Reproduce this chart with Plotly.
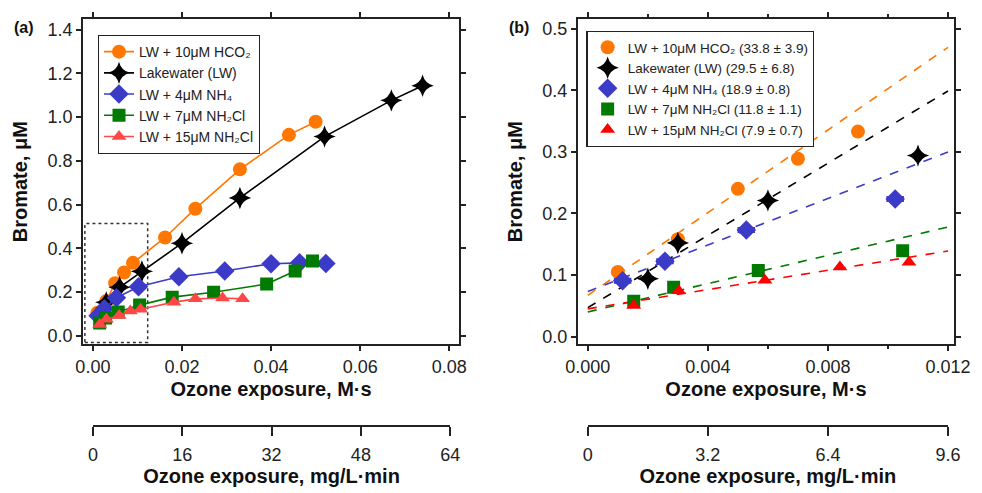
import plotly.graph_objects as go

# ---------------- data ----------------
names_a = ["LW + 10μM HCO₂", "Lakewater (LW)", "LW + 4μM NH₄",
           "LW + 7μM NH₂Cl", "LW + 15μM NH₂Cl"]
rates = ["(33.8 ± 3.9)", "(29.5 ± 6.8)", "(18.9 ± 0.8)", "(11.8 ± 1.1)", "(7.9 ± 0.7)"]

hco2_x = [0.001, 0.003, 0.005, 0.007, 0.009, 0.0162, 0.023, 0.033, 0.044, 0.050]
hco2_y = [0.105, 0.158, 0.240, 0.289, 0.333, 0.449, 0.581, 0.761, 0.919, 0.979]

lw_x = [0.002, 0.003, 0.006, 0.011, 0.020, 0.033, 0.052, 0.067, 0.074]
lw_y = [0.094, 0.152, 0.221, 0.294, 0.423, 0.630, 0.911, 1.077, 1.144]

nh4_x = [0.00116, 0.00257, 0.00528, 0.01024, 0.0193, 0.0296, 0.040, 0.0464, 0.0523]
nh4_y = [0.0905, 0.1225, 0.173, 0.2236, 0.269, 0.296, 0.329, 0.333, 0.330]

cl7_x = [0.00153, 0.00286, 0.00568, 0.01049, 0.0178, 0.0271, 0.039, 0.0454, 0.0493]
cl7_y = [0.0575, 0.080, 0.1075, 0.1395, 0.176, 0.198, 0.236, 0.296, 0.341]

cl15_x = [0.00153, 0.00303, 0.0059, 0.0084, 0.0107, 0.0182, 0.023, 0.0291, 0.0336]
cl15_y = [0.0506, 0.0745, 0.0916, 0.113, 0.1209, 0.153, 0.168, 0.172, 0.168]

# error bars on NH4 points (panel b)
nh4_err_y = [0.007, 0.007, 0.007, 0.007]
nh4_err_x = [0.00025, 0.00025, 0.00025, 0.00025]

# fitted lines in panel b (value at x=0 and at x=0.012)
fit_x = [0.0, 0.012]
fit_y0 = [0.067, 0.047, 0.073, 0.040, 0.045]
fit_y1 = [0.470, 0.399, 0.300, 0.178, 0.139]

xb_max = 0.0115  # panel (b) shows low-exposure points

colors_a = ["#FF7700", "#000000", "#3B3BC8", "#007A00", "#FF4747"]
colors_b = ["#FF7700", "#000000", "#3B3BC8", "#007A00", "#FF0000"]
symbols = ["circle", "star-diamond", "diamond", "square", "triangle-up"]
sizes = [14, 16, 15, 13, 13]

series = [(hco2_x, hco2_y), (lw_x, lw_y), (nh4_x, nh4_y), (cl7_x, cl7_y), (cl15_x, cl15_y)]

FONT = "Liberation Sans, Arial, sans-serif"
fig = go.Figure()

# ---------------- panel (a) ----------------
for i, (xs, ys) in enumerate(series):
    fig.add_trace(go.Scatter(
        x=xs, y=ys, mode="lines+markers", name=names_a[i],
        line=dict(color=colors_a[i], width=1.6),
        marker=dict(symbol=symbols[i], size=sizes[i], color=colors_a[i], line=dict(width=0)),
        xaxis="x", yaxis="y", legend="legend"))

# ---------------- panel (b) ----------------
for i, (xs, ys) in enumerate(series):
    fig.add_trace(go.Scatter(
        x=fit_x, y=[fit_y0[i], fit_y1[i]], mode="lines", showlegend=False,
        line=dict(color=colors_b[i], width=1.6, dash="dash"),
        xaxis="x2", yaxis="y2", hoverinfo="skip"))
for i, (xs, ys) in enumerate(series):
    px = [x for x in xs if x <= xb_max]
    py = [y for x, y in zip(xs, ys) if x <= xb_max]
    kw = {}
    if i == 2:
        kw = dict(error_y=dict(type="data", array=nh4_err_y, color=colors_b[i], thickness=2.5, width=3),
                  error_x=dict(type="data", array=nh4_err_x, color=colors_b[i], thickness=2.5, width=3))
    fig.add_trace(go.Scatter(
        x=px, y=py, mode="markers", name=names_a[i] + " " + rates[i],
        marker=dict(symbol=symbols[i], size=sizes[i], color=colors_b[i], line=dict(width=0)),
        xaxis="x2", yaxis="y2", legend="legend2", **kw))

# invisible traces to carry the secondary exposure axes
fig.add_trace(go.Scatter(x=[0], y=[0], mode="markers", marker=dict(opacity=0), xaxis="x3", yaxis="y3",
                         showlegend=False, hoverinfo="skip"))
fig.add_trace(go.Scatter(x=[0], y=[0], mode="markers", marker=dict(opacity=0), xaxis="x4", yaxis="y4",
                         showlegend=False, hoverinfo="skip"))

TICK = 18
TITLE = 20
axis_common = dict(showgrid=False, zeroline=False, showline=True, linecolor="#222", linewidth=1.8,
                   mirror="ticks", ticks="outside", ticklen=5, tickwidth=1.5, tickcolor="#222",
                   tickfont=dict(size=TICK, color="#222", family=FONT))
title_font = dict(size=TITLE, color="#111", family=FONT)
sec_common = dict(showgrid=False, zeroline=False, showline=True,
                  linecolor="#222", linewidth=1.5, ticks="outside", ticklen=9, tickwidth=1.5,
                  tickcolor="#222", ticklabelstandoff=4,
                  tickfont=dict(size=TICK, color="#222", family=FONT))
hidden_y = dict(domain=[0, 0.002], visible=False, range=[-1, 1], showgrid=False, zeroline=False)

W, H = 982, 493
ML, MR, MT, MB = 83, 19, 17, 63
ydom = [0.1985, 1.0]
fig.update_layout(
    width=W, height=H,
    margin=dict(l=ML, r=MR, t=MT, b=MB),
    plot_bgcolor="white", paper_bgcolor="white",
    font=dict(family=FONT, color="#222"),
    xaxis=dict(domain=[0.0, 0.4318], range=[-0.00222, 0.0822], tickvals=[0, 0.02, 0.04, 0.06, 0.08],
               tickformat=".2f", anchor="y",
               title=dict(text="<b>Ozone exposure, M·s</b>", font=title_font, standoff=6), **axis_common),
    yaxis=dict(domain=ydom, range=[-0.0405, 1.4495], dtick=0.2, tickformat=".1f", anchor="x",
               title=dict(text="<b>Bromate, μM</b>", font=title_font, standoff=14), **axis_common),
    xaxis2=dict(domain=[0.5682, 1.0], range=[-0.00033, 0.0122], tickvals=[0, 0.004, 0.008, 0.012],
                tickformat=".3f", anchor="y2",
                minor=dict(tickvals=[0.002, 0.006, 0.010], ticks="outside", ticklen=3, tickwidth=1.5,
                           tickcolor="#222"),
                title=dict(text="<b>Ozone exposure, M·s</b>", font=title_font, standoff=6), **axis_common),
    yaxis2=dict(domain=ydom, range=[-0.0128, 0.516], dtick=0.1, tickformat=".1f", anchor="x2",
                title=dict(text="<b>Bromate, μM</b>", font=title_font, standoff=14), **axis_common),
    xaxis3=dict(domain=[0.01136, 0.4216], range=[0, 64], tickvals=[0, 16, 32, 48, 64],
                anchor="y3", **sec_common,
                title=dict(text="<b>Ozone exposure, mg/L·min</b>", font=title_font, standoff=2)),
    yaxis3=dict(anchor="x3", **hidden_y),
    xaxis4=dict(domain=[0.5795, 0.9932], range=[0, 9.6], tickvals=[0, 3.2, 6.4, 9.6],
                ticktext=["0", "3.2", "6.4", "9.6"], anchor="y4", **sec_common,
                title=dict(text="<b>Ozone exposure, mg/L·min</b>", font=title_font, standoff=2)),
    yaxis4=dict(anchor="x4", **hidden_y),
    legend=dict(x=0.017, y=0.961, xanchor="left", yanchor="top", bgcolor="white",
                bordercolor="#222", borderwidth=1.2, font=dict(size=14, color="#222", family=FONT),
                tracegroupgap=0, itemwidth=30),
    legend2=dict(x=0.578, y=0.971, xanchor="left", yanchor="top", bgcolor="white",
                 bordercolor="#222", borderwidth=1.2, font=dict(size=13.5, color="#222", family=FONT),
                 tracegroupgap=0, itemwidth=30),
    shapes=[dict(type="rect", xref="x", yref="y", x0=-0.0018, x1=0.0123, y0=-0.0315, y1=0.513,
                 line=dict(color="#333", width=1.5, dash="dot"), layer="below")],
    annotations=[
        dict(text="<b>(a)</b>", x=23, y=26, xref="paper", yref="paper", showarrow=False,
             font=dict(size=16, color="#111", family=FONT)),
        dict(text="<b>(b)</b>", x=523, y=26, xref="paper", yref="paper", showarrow=False,
             font=dict(size=16, color="#111", family=FONT)),
    ],
)

# convert pixel positions of panel labels to paper coords
pw, ph = W - ML - MR, H - MT - MB
for a in fig.layout.annotations:
    a.x = (a.x - ML) / pw
    a.y = (H - MB - a.y) / ph
    a.xanchor = "center"
    a.yanchor = "middle"

# remove the default page margin so the figure fills the window exactly
fig.write_html("out.html", config={"displayModeBar": False},
               post_script="document.body.style.margin='0';document.body.style.overflow='hidden';")
